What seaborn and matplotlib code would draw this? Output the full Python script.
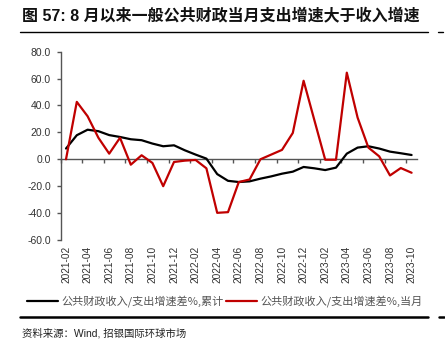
import matplotlib
matplotlib.use('Agg')
import matplotlib.pyplot as plt
import seaborn as sns
import pandas as pd
from matplotlib.lines import Line2D
from matplotlib.ticker import FormatStrFormatter

# ---------------- data ----------------
months = ['2021-02', '2021-03', '2021-04', '2021-05', '2021-06', '2021-07', '2021-08',
          '2021-09', '2021-10', '2021-11', '2021-12',
          '2022-01', '2022-02', '2022-03', '2022-04', '2022-05', '2022-06', '2022-07',
          '2022-08', '2022-09', '2022-10', '2022-11', '2022-12',
          '2023-01', '2023-02', '2023-03', '2023-04', '2023-05', '2023-06', '2023-07',
          '2023-08', '2023-09', '2023-10']

cumulative = [8, 17.9, 22, 20.9, 18, 16.6, 14.9, 14.2, 11.7, 9.7, 10.4,
              6.7, 3.5, 0.5, -11, -16, -16.9, -16.4, -14.4, -12.7, -10.7, -9.2, -5.7,
              -6.7, -8, -6.2, 4.2, 8.7, 9.7, 8, 5.7, 4.5, 3.2]

monthly = [0, 42.7, 32, 16, 4.2, 16, -4, 3, -2.7, -20, -2,
           -1, -0.5, -6.7, -39.8, -39.3, -16.9, -15, 0, 3.5, 7, 19.6, 58.4,
           29, -0.3, -0.3, 64.4, 31, 8.7, 2.2, -12, -6.5, -10]

series_names = ['公共财政收入/支出增速差%,累计', '公共财政收入/支出增速差%,当月']
yticks = [-60, -40, -20, 0, 20, 40, 60, 80]

title = '图 57: 8 月以来一般公共财政当月支出增速大于收入增速'
source = '资料来源：Wind, 招银国际环球市场'

# ---------------- style ----------------
sns.set_theme(style='white')
plt.rcParams['font.family'] = ['Liberation Sans', 'Noto Sans CJK SC', 'DejaVu Sans']
plt.rcParams['axes.unicode_minus'] = False

n = len(months)
df = pd.DataFrame({
    'idx': list(range(n)) * 2,
    'val': cumulative + monthly,
    'series': [series_names[0]] * n + [series_names[1]] * n,
})

fig = plt.figure(figsize=(4.45, 3.52), dpi=100)
ax = fig.add_axes([60.6 / 445, 1 - 240 / 352, (417 - 60.6) / 445, (240 - 51.7) / 352])

sns.lineplot(data=df, x='idx', y='val', hue='series', hue_order=series_names,
             palette=['#000000', '#C00000'], linewidth=1.6, ax=ax, legend=False)

ax.set_xlim(-0.5, n - 0.5)
ax.set_ylim(yticks[0], yticks[-1])
ax.set_xlabel('')
ax.set_ylabel('')

for s in ['top', 'right', 'bottom']:
    ax.spines[s].set_visible(False)
ax.spines['left'].set_color('#555555')
ax.spines['left'].set_linewidth(1.0)

ax.set_yticks(yticks)
ax.yaxis.set_major_formatter(FormatStrFormatter('%.1f'))
ax.tick_params(axis='y', left=True, direction='out', length=3, width=1,
               color='#555555', labelsize=7.5, labelcolor='#333333', pad=4)

ax.set_xticks(list(range(0, n, 2)))
ax.set_xticklabels(months[::2], rotation=90)
ax.tick_params(axis='x', bottom=True, length=0, labelsize=7.3,
               labelcolor='#333333', pad=4)

# zero line with small category-boundary ticks
sec = ax.secondary_xaxis(-yticks[0] / (yticks[-1] - yticks[0]))
sec.set_xticks([i - 0.5 for i in range(0, n + 1, 2)])
sec.xaxis.set_ticks_position('bottom')
sec.tick_params(axis='x', direction='out', length=3, width=1, color='#555555',
                labelbottom=False, labeltop=False)
for s in ['top', 'left', 'right']:
    if s in sec.spines:
        sec.spines[s].set_visible(False)
sec.spines['bottom'].set_visible(True)
sec.spines['bottom'].set_color('#555555')
sec.spines['bottom'].set_linewidth(1.0)

# legend
handles = [Line2D([], [], color='#000000', lw=1.6),
           Line2D([], [], color='#C00000', lw=1.6)]
leg = fig.legend(handles, series_names, loc='center', ncol=2,
                 bbox_to_anchor=(0.505, 1 - 301 / 352), frameon=False,
                 prop={'family': ['Noto Sans CJK SC', 'DejaVu Sans'], 'size': 8},
                 handlelength=2.8, handletextpad=0.3, columnspacing=0.2)
for t in leg.get_texts():
    t.set_color('#555555')

# title, rules and source
fig.text(22 / 445, 1 - 15 / 352, title, fontsize=11.5, fontweight='bold',
         ha='left', va='center', color='#111111',
         family=['Liberation Sans', 'Noto Sans CJK SC'])
fig.add_artist(Line2D([20 / 445, 428 / 445], [1 - 32 / 352] * 2, color='#000000', lw=1.0))
fig.add_artist(Line2D([438 / 445, 443 / 445], [1 - 32 / 352] * 2, color='#000000', lw=1.0))
fig.add_artist(Line2D([20 / 445, 428 / 445], [1 - 317 / 352] * 2, color='#000000', lw=1.8))
fig.add_artist(Line2D([439 / 445, 444 / 445], [1 - 317 / 352] * 2, color='#000000', lw=1.8))
fig.text(22 / 445, 1 - 333 / 352, source, fontsize=7.5, ha='left', va='center',
         color='#222222', family=['Liberation Sans', 'Noto Sans CJK SC'])

fig.savefig('out.png', dpi=100)
